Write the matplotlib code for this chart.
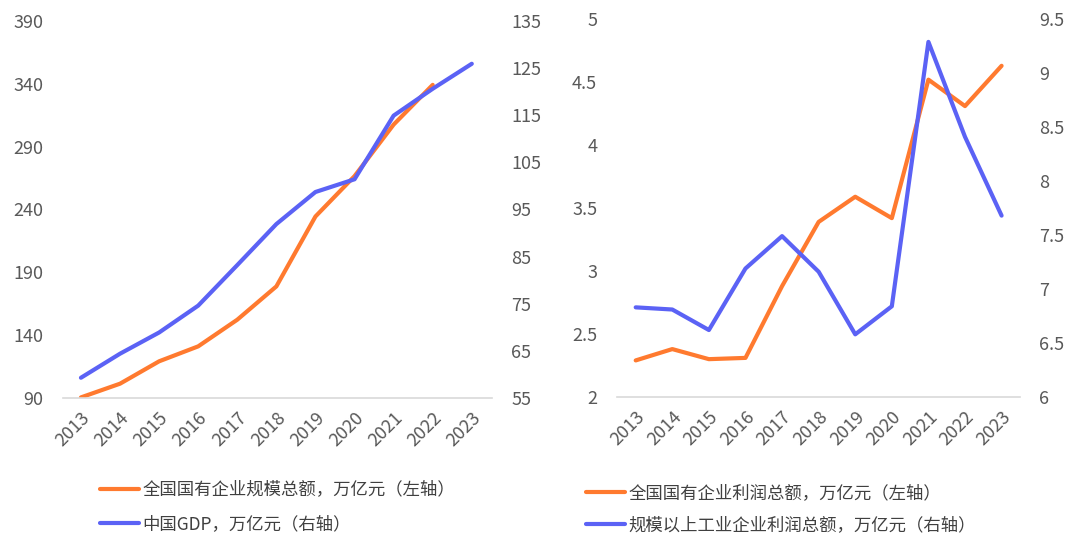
import matplotlib
matplotlib.use('Agg')
import matplotlib.pyplot as plt

plt.rcParams['font.family'] = ['Noto Sans CJK SC', 'DejaVu Sans']

years = ['2013', '2014', '2015', '2016', '2017', '2018', '2019', '2020', '2021', '2022', '2023']

# left panel
soe_assets = [90.5, 101.4, 119.2, 131.1, 152.3, 178.8, 234.4, 266.5, 307.5, 339.1]
gdp = [59.3, 64.4, 68.9, 74.6, 83.2, 91.9, 98.7, 101.4, 114.9, 120.6, 125.9]

# right panel
soe_profit = [2.29, 2.38, 2.30, 2.31, 2.88, 3.39, 3.59, 3.42, 4.52, 4.31, 4.63]
ind_profit = [6.83, 6.81, 6.62, 7.19, 7.49, 7.16, 6.58, 6.84, 9.29, 8.41, 7.68]

orange = '#FF7A2F'
blue = '#5B62F5'
grey = '#595959'

fig = plt.figure(figsize=(10.8, 5.49), dpi=100)


def style(ax, ax2):
    for a in (ax, ax2):
        for s in ('top', 'left', 'right'):
            a.spines[s].set_visible(False)
        a.spines['bottom'].set_color('#d9d9d9')
        a.spines['bottom'].set_linewidth(1.2)
        a.tick_params(axis='both', length=0, colors=grey, labelsize=13)
    ax.tick_params(axis='y', pad=14)
    ax2.tick_params(axis='y', pad=14)
    ax2.spines['bottom'].set_visible(False)
    ax.set_xticks(range(len(years)))
    ax.set_xticklabels(years, rotation=45, ha='right', rotation_mode='anchor')
    ax.tick_params(axis='x', pad=8)


ax1 = fig.add_axes([0.0583, 0.275, 0.397, 0.687])
ax1b = ax1.twinx()
l1, = ax1.plot(range(len(soe_assets)), soe_assets, color=orange, lw=3, solid_capstyle='round', zorder=2)
l2, = ax1b.plot(range(len(gdp)), gdp, color=blue, lw=3, solid_capstyle='round')
ax1.set_ylim(90, 390)
ax1.set_yticks([90, 140, 190, 240, 290, 340, 390])
ax1b.set_ylim(55, 135)
ax1b.set_yticks([55, 65, 75, 85, 95, 105, 115, 125, 135])
ax1.set_xlim(-0.46, 10.51)
style(ax1, ax1b)
fig.legend([l1, l2], ['全国国有企业规模总额，万亿元（左轴）', '中国GDP，万亿元（右轴）'],
           loc='upper left', bbox_to_anchor=(0.0785, 0.153), frameon=False,
           fontsize=12.5, handlelength=2.2, handletextpad=0.2, labelspacing=0.95,
           labelcolor='#404040')

ax2 = fig.add_axes([0.571, 0.277, 0.373, 0.688])
ax2b = ax2.twinx()
r1, = ax2.plot(range(len(soe_profit)), soe_profit, color=orange, lw=3, solid_capstyle='round')
r2, = ax2b.plot(range(len(ind_profit)), ind_profit, color=blue, lw=3, solid_capstyle='round')
ax2.set_ylim(2, 5)
ax2.set_yticks([2, 2.5, 3, 3.5, 4, 4.5, 5])
ax2.set_yticklabels(['2', '2.5', '3', '3.5', '4', '4.5', '5'])
ax2b.set_ylim(6, 9.5)
ax2b.set_yticks([6, 6.5, 7, 7.5, 8, 8.5, 9, 9.5])
ax2b.set_yticklabels(['6', '6.5', '7', '7.5', '8', '8.5', '9', '9.5'])
ax2.set_xlim(-0.52, 10.49)
style(ax2, ax2b)
fig.legend([r1, r2], ['全国国有企业利润总额，万亿元（左轴）', '规模以上工业企业利润总额，万亿元（右轴）'],
           loc='upper left', bbox_to_anchor=(0.5285, 0.146), frameon=False,
           fontsize=12.5, handlelength=2.2, handletextpad=0.2, labelspacing=0.8,
           labelcolor='#404040')

fig.savefig('out.png', dpi=100)
